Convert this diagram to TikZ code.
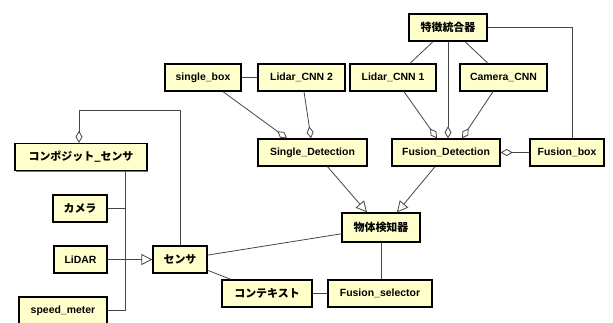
\documentclass[tikz,border=0pt]{standalone}
\usepackage{fontspec}
\setmainfont{Liberation Sans}
\newfontfamily\jpfont{Noto Sans CJK JP}
\usepackage{tikz}
\usetikzlibrary{arrows.meta,shadows,positioning}
\definecolor{classyellow}{RGB}{255,255,204}
\definecolor{linkgray}{RGB}{70,70,70}

\begin{document}
\begin{tikzpicture}[
    x=1bp, y=-1bp,
    every node/.style={draw,line width=1.3bp,fill=classyellow,minimum height=27bp,inner sep=2bp,
        font=\fontsize{10.5}{12}\selectfont\bfseries,
        drop shadow={shadow xshift=1bp,shadow yshift=-1bp,fill=black!55,opacity=1}},
    jp/.style={font=\jpfont\fontsize{11}{13}\selectfont\bfseries},
    link/.style={draw=linkgray,line width=0.8bp},
    agg/.style={link,{Diamond[open,length=12bp,width=7bp,line width=0.8bp]}-},
    gen/.style={link,-{Triangle[open,length=11bp,width=11bp,line width=0.8bp]}}
]
\clip (0,0) rectangle (613,322);
\fill[white] (0,0) rectangle (613,322);

% Sensor side
\node[jp,minimum width=132bp] (comp) at (81,157) {コンポジット\_センサ};
\node[jp,minimum width=54bp] (camera) at (80,208.5) {カメラ};
\node[minimum width=53bp] (lidar) at (80.5,259.5) {LiDAR};
\node[minimum width=88bp] (speed) at (63,310.5) {speed\_meter};
\node[jp,minimum width=54bp] (sensor) at (180,259.5) {センサ};
\coordinate (trunk) at (125,0);
\coordinate (bend) at (0,110);

% Detection side
\node[minimum width=76bp] (singlebox) at (203,77.5) {single\_box};
\node[minimum width=87bp] (lcnn2) at (301.5,77.5) {Lidar\_CNN 2};
\node[minimum width=86bp] (lcnn1) at (393,77.5) {Lidar\_CNN 1};
\node[minimum width=87bp] (camcnn) at (503.5,77.5) {Camera\_CNN};
\node[jp,minimum width=78bp] (feat) at (448,27.5) {特徴統合器};
\node[minimum width=109bp] (singledet) at (312.5,152.5) {Single\_Detection};
\node[minimum width=108bp] (fusiondet) at (446,152.5) {Fusion\_Detection};
\node[minimum width=74bp] (fusionbox) at (567,152.5) {Fusion\_box};

% Detector and selection
\node[jp,minimum width=78bp,minimum height=29bp] (detector) at (381,227.5) {物体検知器};
\node[jp,minimum width=90bp] (context) at (267,293.5) {コンテキスト};
\node[minimum width=104bp] (selector) at (380,293.5) {Fusion\_selector};

% Connections
\draw[agg] ([xshift=-2bp]comp.north) |- (sensor.north |- bend) -- (sensor.north);
\draw[link] (comp.south -| trunk) |- (speed.east);
\draw[link] (camera.east) -- (camera.east -| trunk);
\draw[gen] (lidar) -- (sensor);
\draw[link] (sensor) -- (detector);
\draw[link] (sensor) -- (context);
\draw[link] (context) -- (selector);
\draw[link] (detector.south) -- (selector.north -| detector.south);

\draw[link] (singlebox) -- (lcnn2);
\draw[agg] ([xshift=-25.5bp]singledet.north) -- ([xshift=20bp]singlebox.south);
\draw[agg] ([xshift=-1.5bp]singledet.north) -- ([xshift=2.5bp]lcnn2.south);
\draw[agg] ([xshift=-9bp]fusiondet.north) -- ([xshift=11bp]lcnn1.south);
\draw[agg] (fusiondet.north -| feat.south) -- (feat.south);
\draw[agg] ([xshift=16bp]fusiondet.north) -- ([xshift=-10.5bp]camcnn.south);
\draw[link] ([xshift=-15bp]feat.south) -- ([xshift=17bp]lcnn1.north);
\draw[link] ([xshift=17bp]feat.south) -- ([xshift=-15.5bp]camcnn.north);
\draw[link] (feat.east) -| ([xshift=5bp]fusionbox.north);
\draw[agg] (fusiondet.east) -- (fusionbox.west);

\draw[gen] ([xshift=15bp]singledet.south) -- ([xshift=-14bp]detector.north);
\draw[gen] ([xshift=-11bp]fusiondet.south) -- ([xshift=16bp]detector.north);

\end{tikzpicture}
\end{document}
